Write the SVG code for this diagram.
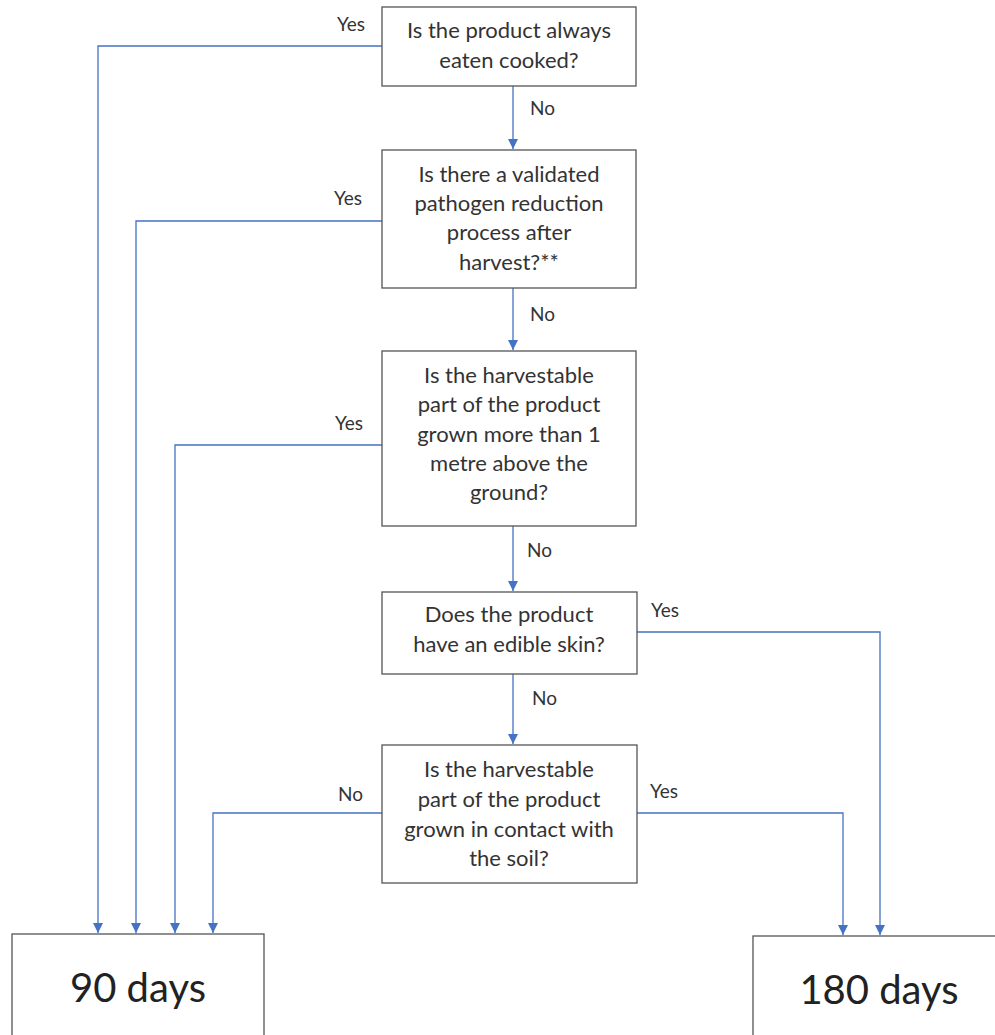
<svg xmlns="http://www.w3.org/2000/svg" width="995" height="1035" viewBox="0 0 995 1035">
<defs>
<marker id="ah" viewBox="0 0 10 10" refX="10" refY="5" markerWidth="10" markerHeight="10" markerUnits="userSpaceOnUse" orient="auto">
<path d="M0,0 L10,5 L0,10 z" fill="#4472C4"/>
</marker>
<style>
.box{fill:#fff;stroke:#555;stroke-width:1.3}
.t{font-family:Lato,"Open Sans",sans-serif;font-size:22px;fill:#333;text-anchor:middle}
.lbl{font-family:Lato,"Open Sans",sans-serif;font-size:19px;fill:#333}
.big{font-family:Lato,"Open Sans",sans-serif;font-size:40px;fill:#222;text-anchor:middle}
.c{fill:none;stroke:#4472C4;stroke-width:1.3;marker-end:url(#ah)}
</style>
</defs>
<rect width="995" height="1035" fill="#fff"/>
<g id="connectors">
<path class="c" d="M513,86 V149"/>
<path class="c" d="M513,288 V350"/>
<path class="c" d="M513,526 V591"/>
<path class="c" d="M513,674 V744"/>
<path class="c" d="M382,46 H98 V933"/>
<path class="c" d="M382,221 H136 V933"/>
<path class="c" d="M382,445 H175 V933"/>
<path class="c" d="M382,813 H213 V933"/>
<path class="c" d="M637,632 H880 V935"/>
<path class="c" d="M637,813 H843 V935"/>
<text class="lbl" x="530" y="115">No</text>
<text class="lbl" x="530" y="321">No</text>
<text class="lbl" x="527" y="557">No</text>
<text class="lbl" x="532" y="705">No</text>
<text class="lbl" x="337" y="31">Yes</text>
<text class="lbl" x="334" y="205">Yes</text>
<text class="lbl" x="335" y="430">Yes</text>
<text class="lbl" x="338" y="801">No</text>
<text class="lbl" x="651" y="617">Yes</text>
<text class="lbl" x="650" y="798">Yes</text>
</g>
<g id="n1">
<rect class="box" x="382" y="7" width="254" height="79"/>
<text class="t" x="509" y="38">Is the product always</text>
<text class="t" x="509" y="68">eaten cooked?</text>
</g>
<g id="n2">
<rect class="box" x="382" y="150" width="254" height="138"/>
<text class="t" x="509" y="182">Is there a validated</text>
<text class="t" x="509" y="211">pathogen reduction</text>
<text class="t" x="509" y="240">process after</text>
<text class="t" x="509" y="270">harvest?**</text>
</g>
<g id="n3">
<rect class="box" x="382" y="351" width="254" height="175"/>
<text class="t" x="509" y="383">Is the harvestable</text>
<text class="t" x="509" y="412">part of the product</text>
<text class="t" x="509" y="442">grown more than 1</text>
<text class="t" x="509" y="471">metre above the</text>
<text class="t" x="509" y="500">ground?</text>
</g>
<g id="n4">
<rect class="box" x="382" y="592" width="255" height="82"/>
<text class="t" x="509" y="622">Does the product</text>
<text class="t" x="509" y="652">have an edible skin?</text>
</g>
<g id="n5">
<rect class="box" x="382" y="745" width="255" height="138"/>
<text class="t" x="509" y="777">Is the harvestable</text>
<text class="t" x="509" y="807">part of the product</text>
<text class="t" x="509" y="837">grown in contact with</text>
<text class="t" x="509" y="866">the soil?</text>
</g>
<g id="n90">
<rect class="box" x="12" y="934" width="252" height="110"/>
<text class="big" x="138" y="1002">90 days</text>
</g>
<g id="n180">
<rect class="box" x="753" y="936" width="260" height="110"/>
<text class="big" x="879" y="1004">180 days</text>
</g>
</svg>
